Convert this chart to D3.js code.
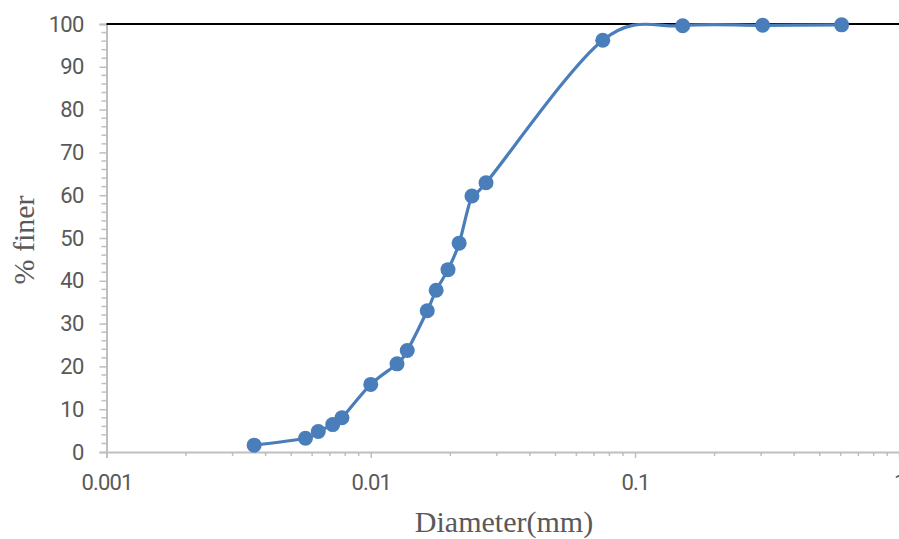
<!DOCTYPE html>
<html>
<head>
<meta charset="utf-8">
<script src="https://cdn.jsdelivr.net/npm/d3@7"></script>
<style>
  html, body { margin: 0; padding: 0; background: #fff; }
  svg { display: block; }
</style>
</head>
<body>
<svg id="chart" width="899" height="539"></svg>
<script>
// ---- data ----
const diameters = [0.00362, 0.00566, 0.00633, 0.00718, 0.00778, 0.0100, 0.01257, 0.01374,
                   0.01636, 0.01768, 0.0196, 0.0216, 0.02415, 0.0273, 0.0755, 0.1515, 0.304, 0.605];
const percentFiner = [1.6, 3.2, 4.8, 6.4, 8.0, 15.8, 20.6, 23.7,
                      33.0, 37.8, 42.6, 48.8, 59.8, 62.9, 96.2, 99.6, 99.7, 99.8];
const xTickValues = [0.001, 0.01, 0.1, 1];
const xTickLabels = ["0.001", "0.01", "0.1", "1"];
const yTickValues = [0, 10, 20, 30, 40, 50, 60, 70, 80, 90, 100];
const xTitle = "Diameter(mm)";
const yTitle = "% finer";

(function () {
const svg = d3.select("#chart");
const mLeft = 106.5, mRight = 899.3, mTop = 24, mBottom = 452;

const x = d3.scaleLog().domain([0.001, 1]).range([mLeft, mRight]);
const y = d3.scaleLinear().domain([0, 100]).range([mBottom, mTop]);

const axisColor = "#bfbfbf";
const textColor = "#595959";
const tickFont = "Roboto, 'Noto Sans', sans-serif";

// minor ticks on y (every 2)
const yMinor = d3.range(0, 101, 2).filter(v => v % 10 !== 0);
svg.append("g").selectAll("line").data(yMinor).join("line")
  .attr("x1", mLeft - 5).attr("x2", mLeft)
  .attr("y1", d => y(d)).attr("y2", d => y(d))
  .attr("stroke", axisColor).attr("stroke-width", 1.5);

// y axis
const yAxis = d3.axisLeft(y).tickValues(yTickValues).tickSize(7).tickPadding(16).tickFormat(d3.format("d"));
const gy = svg.append("g").attr("transform", `translate(${mLeft},0)`).call(yAxis);
gy.select(".domain").attr("stroke", axisColor).attr("stroke-width", 2);
gy.selectAll(".tick line").attr("stroke", axisColor).attr("stroke-width", 1.5);
gy.selectAll(".tick text").attr("fill", textColor)
  .style("font-family", tickFont).style("font-size", "22px").style("letter-spacing", "-0.8px");

// x minor ticks
const xMinor = [];
[0.001, 0.01, 0.1].forEach(d => { for (let k = 2; k <= 9; k++) xMinor.push(d * k); });
svg.append("g").selectAll("line").data(xMinor).join("line")
  .attr("x1", d => x(d)).attr("x2", d => x(d))
  .attr("y1", mBottom).attr("y2", mBottom + 4)
  .attr("stroke", axisColor).attr("stroke-width", 1.5);

// x axis
const xAxis = d3.axisBottom(x).tickValues(xTickValues).tickSize(6).tickPadding(16)
  .tickFormat((d, i) => xTickLabels[i]);
const gx = svg.append("g").attr("transform", `translate(0,${mBottom})`).call(xAxis);
gx.select(".domain").attr("stroke", axisColor).attr("stroke-width", 2);
gx.selectAll(".tick line").attr("stroke", axisColor).attr("stroke-width", 1.5);
gx.selectAll(".tick text").attr("fill", textColor)
  .style("font-family", tickFont).style("font-size", "22px").style("letter-spacing", "-0.8px");

// top black line at 100
svg.append("line")
  .attr("x1", mLeft).attr("x2", 899)
  .attr("y1", y(100)).attr("y2", y(100))
  .attr("stroke", "#000").attr("stroke-width", 2);

// series
const pts = diameters.map((d, i) => [d, percentFiner[i]]);
const line = d3.line().x(d => x(d[0])).y(d => y(d[1])).curve(d3.curveCardinal.tension(0));
svg.append("path").datum(pts)
  .attr("d", line).attr("fill", "none")
  .attr("stroke", "#4a7ebb").attr("stroke-width", 3.2).attr("stroke-linejoin", "round");
svg.append("g").selectAll("circle").data(pts).join("circle")
  .attr("cx", d => x(d[0])).attr("cy", d => y(d[1])).attr("r", 7.5)
  .attr("fill", "#4a7ebb");

// titles
svg.append("text").text(xTitle)
  .attr("x", 504).attr("y", 532).attr("text-anchor", "middle")
  .attr("fill", textColor)
  .style("font-family", "'Liberation Serif', 'Times New Roman', serif").style("font-size", "30px");
svg.append("text").text(yTitle)
  .attr("transform", "translate(34,240) rotate(-90)").attr("text-anchor", "middle")
  .attr("fill", textColor)
  .style("font-family", "'Liberation Serif', 'Times New Roman', serif").style("font-size", "30px");
})();
</script>
</body>
</html>
